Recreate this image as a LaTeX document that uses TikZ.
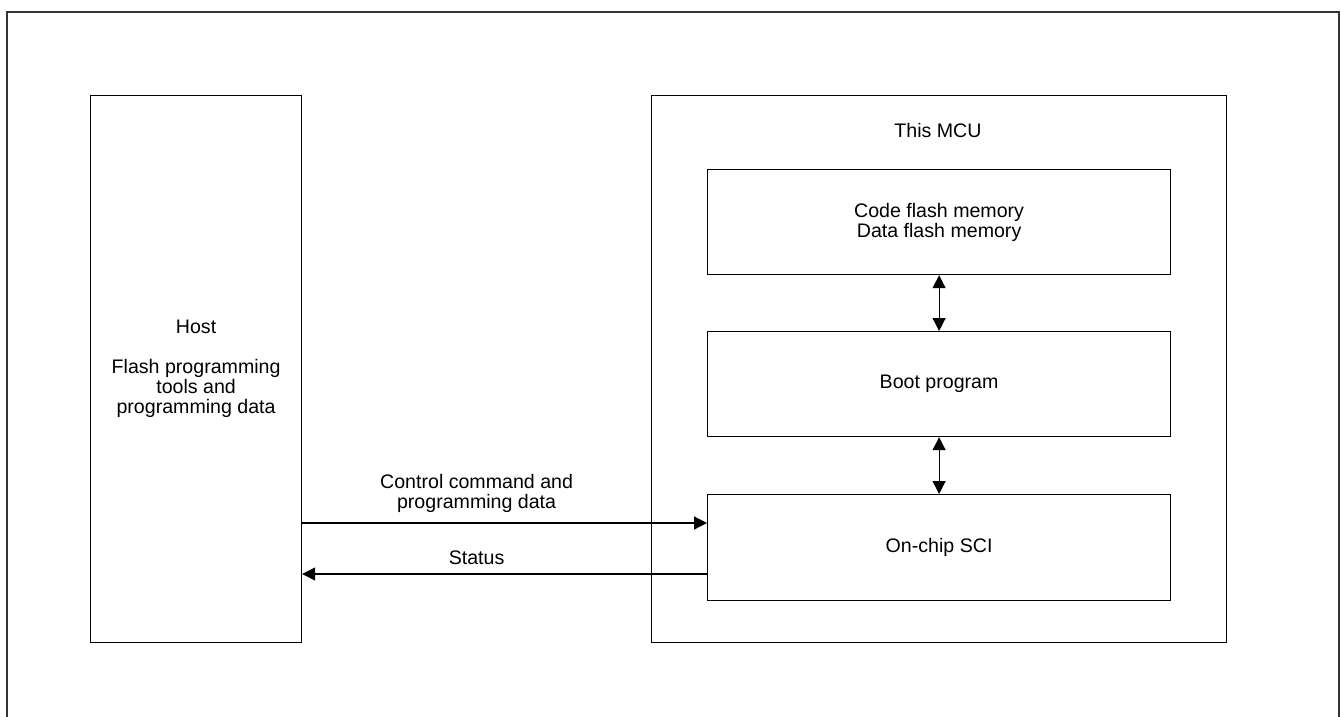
\documentclass[tikz,border=0pt]{standalone}
\usepackage{fontspec}
\setmainfont{Liberation Sans}
\usetikzlibrary{arrows.meta,calc}

\begin{document}
\begin{tikzpicture}[x=0.5pt, y=-0.5pt, >={Triangle[length=6.5pt,width=6.5pt]},
        blk/.style={draw, line width=0.6pt, anchor=north west, inner sep=0pt,
            align=center, font=\fontsize{9.8}{10}\selectfont},
        lbl/.style={align=center, inner sep=0pt, font=\fontsize{9.8}{10}\selectfont},
        link/.style={line width=0.6pt}]
        \useasboundingbox (0,0) rectangle (1340,717);

        % --- Cadre extérieur (bord inférieur hors image) ---
        \draw[line width=1pt, gray!40!black] (7,717) -- (7,12) -- (1339,12) -- (1339,717);

        % ==============================================================
        % HOST
        % ==============================================================
        \node[blk, minimum width=211*0.5pt, minimum height=547*0.5pt] (host) at (90,95)
            {Host\\[10pt]Flash programming\\tools and\\programming data};

        % ==============================================================
        % MCU et blocs internes
        % ==============================================================
        \node[blk, minimum width=575*0.5pt, minimum height=547*0.5pt] (mcu) at (651,95) {};
        \node[lbl] (mcuname) at (938,130) {This MCU};

        \node[blk, minimum width=463*0.5pt, minimum height=105*0.5pt] (flash) at (707,169)
            {Code flash memory\\Data flash memory};
        \node[blk, minimum width=463*0.5pt, minimum height=105*0.5pt] (boot) at (707,331)
            {Boot program};
        \node[blk, minimum width=463*0.5pt, minimum height=106*0.5pt] (sci) at (707,494)
            {On-chip SCI};

        % Liaisons internes (bidirectionnelles)
        \draw[link, <->] (flash.south) -- (boot.north);
        \draw[link, <->] (boot.south) -- (sci.north);

        % ==============================================================
        % Echanges Host <-> SCI
        % ==============================================================
        \coordinate (ctrl) at (0,523);
        \coordinate (stat) at (0,574);
        \draw[link, ->] (host.east |- ctrl) -- (sci.west |- ctrl);
        \draw[link, ->] (sci.west |- stat) -- (host.east |- stat);

        \node[lbl] (ctrllbl) at ($(host.east |- ctrl)!0.5!(mcu.west |- ctrl) + (0,-30)$)
            {Control command and\\programming data};
        \node[lbl] (statlbl) at ($(host.east |- stat)!0.5!(mcu.west |- stat) + (0,-16)$)
            {Status};

    \end{tikzpicture}
\end{document}
